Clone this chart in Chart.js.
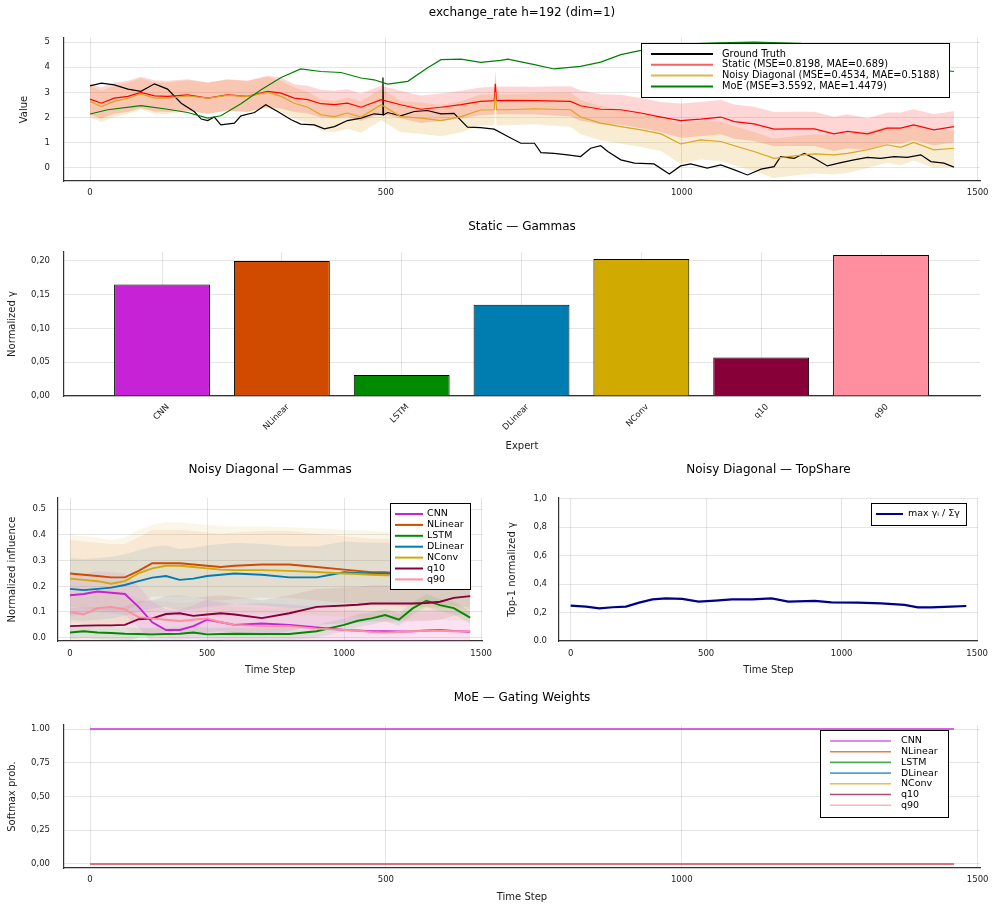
<!DOCTYPE html>
<html>
<head>
<meta charset="utf-8">
<script src="https://cdn.jsdelivr.net/npm/chart.js@4.4.1/dist/chart.umd.min.js"></script>
<style>
  body { margin: 0; background: #fff; }
  #wrap { position: relative; width: 996px; height: 910px; background: #fff; }
  canvas { position: absolute; }
</style>
</head>
<body>
<div id="wrap">
  <canvas id="forecastChart" width="996" height="205" style="left:0;top:0"></canvas>
  <canvas id="staticChart" width="996" height="255" style="left:0;top:205px"></canvas>
  <canvas id="noisyChart" width="500" height="225" style="left:0;top:460px"></canvas>
  <canvas id="shareChart" width="496" height="225" style="left:500px;top:460px"></canvas>
  <canvas id="moeChart" width="996" height="225" style="left:0;top:685px"></canvas>
</div>
<script>
// ---- data ----
const timeTicks = [0, 500, 1000, 1500];
const timeLabels = ["0", "500", "1000", "1500"];

// exchange_rate forecast panel
const gtSteps = [0,19,41,64,86,109,131,154,176,188,199,210,221,244,255,278,297,317,340,356,379,396,413,435,458,480,494,495,496,503,525,548,570,593,615,638,660,683,706,728,751,762,784,807,829,846,863,875,897,920,953,979,998,1015,1043,1066,1089,1111,1134,1156,1167,1190,1207,1224,1246,1269,1291,1314,1336,1359,1381,1404,1421,1443,1460];
const gtValues = [3.26,3.37,3.30,3.13,3.04,3.34,3.13,2.57,2.24,1.94,1.88,2.02,1.71,1.78,2.07,2.20,2.51,2.24,1.91,1.74,1.71,1.55,1.64,1.88,1.98,2.15,2.12,3.59,2.10,2.20,2.07,2.24,2.28,2.15,2.17,1.62,1.60,1.54,1.25,0.98,0.98,0.61,0.58,0.52,0.45,0.78,0.88,0.65,0.32,0.19,0.16,-0.24,0.08,0.16,-0.01,0.12,-0.08,-0.28,-0.05,0.05,0.45,0.38,0.58,0.38,0.08,0.21,0.32,0.42,0.38,0.45,0.42,0.52,0.25,0.19,0.03];

const forecastSteps = [0,19,41,64,86,109,131,165,199,232,266,300,323,345,368,390,413,435,458,492,525,559,593,627,660,683,685,687,706,751,812,829,863,897,931,965,998,1032,1066,1089,1122,1156,1190,1224,1257,1280,1314,1347,1370,1392,1426,1460];
const staticValues = [2.73,2.57,2.77,2.84,3.0,2.86,2.84,2.9,2.77,2.9,2.84,3.04,2.97,2.77,2.71,2.55,2.51,2.57,2.41,2.71,2.51,2.33,2.41,2.51,2.64,2.67,3.34,2.67,2.68,2.67,2.64,2.47,2.33,2.31,2.18,2.02,1.88,1.94,2.02,1.84,1.75,1.54,1.55,1.55,1.35,1.45,1.35,1.58,1.58,1.71,1.51,1.64];
const staticSpread = [0.62,0.62,0.62,0.62,0.62,0.62,0.62,0.62,0.62,0.62,0.62,0.62,0.62,0.55,0.55,0.55,0.55,0.55,0.55,0.55,0.55,0.55,0.55,0.55,0.55,0.55,0.55,0.55,0.55,0.55,0.6,0.6,0.6,0.6,0.6,0.6,0.68,0.68,0.68,0.68,0.68,0.68,0.68,0.68,0.68,0.68,0.62,0.62,0.62,0.62,0.62,0.62];
const noisyValues = [2.64,2.44,2.64,2.77,2.94,2.77,2.77,2.86,2.77,2.88,2.84,3.0,2.84,2.57,2.41,2.11,2.04,2.18,2.02,2.51,2.04,1.98,1.88,2.04,2.30,2.31,3.0,2.31,2.31,2.35,2.31,2.02,1.78,1.64,1.51,1.35,0.95,1.11,1.05,0.88,0.65,0.38,0.48,0.56,0.52,0.58,0.72,0.92,0.82,1.01,0.72,0.78];
const noisySpread = [0.62,0.62,0.62,0.62,0.62,0.62,0.62,0.62,0.62,0.62,0.62,0.62,0.62,0.62,0.62,0.62,0.62,0.62,0.62,0.62,0.62,0.62,0.62,0.62,0.62,0.62,0.62,0.62,0.62,0.62,0.68,0.68,0.68,0.68,0.68,0.68,0.78,0.78,0.78,0.78,0.78,0.78,0.78,0.78,0.78,0.78,0.72,0.72,0.72,0.72,0.72,0.72];

const moeSteps = [0,30,86,131,165,199,221,255,289,323,356,390,424,458,480,503,537,570,593,627,660,694,706,751,784,829,863,897,931,953,1000,1060,1122,1200,1300,1380,1430,1460];
const moeValues = [2.14,2.31,2.47,2.33,2.20,1.98,2.07,2.55,3.10,3.59,3.93,3.83,3.79,3.57,3.50,3.33,3.44,3.97,4.30,4.32,4.19,4.27,4.32,4.10,3.93,4.03,4.2,4.5,4.67,4.83,4.92,4.97,5.0,4.95,4.7,4.2,3.9,3.83];

const forecastYTicks = [0, 1, 2, 3, 4, 5];
const forecastLegend = ["Ground Truth", "Static (MSE=0.8198, MAE=0.689)", "Noisy Diagonal (MSE=0.4534, MAE=0.5188)", "MoE (MSE=3.5592, MAE=1.4479)"];

// experts + static gammas
const experts = ["CNN", "NLinear", "LSTM", "DLinear", "NConv", "q10", "q90"];
const expertColors = ["#c622d6", "#d04a00", "#008a00", "#007db0", "#d0aa00", "#870037", "#ff8f9e"];
const staticGammas = [0.165, 0.200, 0.031, 0.135, 0.203, 0.057, 0.209];
const gammaTicks = [0, 0.05, 0.10, 0.15, 0.20];
const gammaLabels = ["0,00", "0,05", "0,10", "0,15", "0,20"];

// noisy diagonal gammas
const ndSteps = [0,50,100,150,200,250,300,350,400,450,500,550,600,700,800,900,1000,1050,1100,1150,1200,1250,1300,1350,1400,1460];
const ndCNN     = [0.165,0.17,0.18,0.175,0.17,0.12,0.06,0.03,0.03,0.045,0.07,0.06,0.05,0.055,0.05,0.04,0.03,0.028,0.025,0.025,0.024,0.025,0.028,0.03,0.026,0.023];
const ndNLinear = [0.25,0.245,0.24,0.235,0.235,0.26,0.29,0.29,0.29,0.285,0.28,0.275,0.28,0.285,0.285,0.275,0.265,0.26,0.255,0.255,0.25,0.25,0.248,0.245,0.24,0.237];
const ndLSTM    = [0.02,0.025,0.02,0.018,0.015,0.014,0.013,0.014,0.015,0.02,0.013,0.014,0.015,0.014,0.014,0.025,0.05,0.066,0.075,0.088,0.07,0.114,0.144,0.127,0.115,0.078];
const ndDLinear = [0.19,0.185,0.19,0.195,0.205,0.22,0.234,0.24,0.225,0.23,0.24,0.245,0.25,0.245,0.235,0.235,0.255,0.252,0.25,0.25,0.248,0.248,0.25,0.25,0.245,0.237];
const ndNConv   = [0.23,0.225,0.22,0.21,0.22,0.25,0.27,0.28,0.28,0.275,0.27,0.265,0.263,0.263,0.26,0.256,0.25,0.248,0.245,0.243,0.242,0.24,0.24,0.24,0.238,0.235];
const ndQ10     = [0.045,0.047,0.048,0.048,0.05,0.072,0.075,0.092,0.095,0.085,0.09,0.095,0.09,0.076,0.095,0.12,0.125,0.128,0.133,0.133,0.133,0.133,0.135,0.14,0.155,0.162];
const ndQ90     = [0.10,0.09,0.115,0.12,0.11,0.08,0.075,0.07,0.065,0.07,0.075,0.06,0.05,0.045,0.045,0.035,0.03,0.028,0.022,0.02,0.022,0.025,0.027,0.027,0.025,0.025];
const ndSpread  = [0.08, 0.13, 0.025, 0.12, 0.17, 0.07, 0.07];
const ndYTicks = [0, 0.1, 0.2, 0.3, 0.4, 0.5];
const ndYLabels = ["0.0", "0.1", "0.2", "0.3", "0.4", "0.5"];

// top share
const shareSteps = [0,57,106,155,204,253,302,351,412,472,534,595,669,742,803,901,962,1060,1146,1232,1281,1330,1403,1460];
const shareValues = [0.249,0.242,0.23,0.237,0.242,0.27,0.293,0.30,0.296,0.277,0.284,0.293,0.293,0.30,0.277,0.282,0.272,0.27,0.265,0.254,0.237,0.237,0.242,0.246];
const shareYTicks = [0, 0.2, 0.4, 0.6, 0.8, 1.0];
const shareYLabels = ["0.0", "0,2", "0,4", "0,6", "0,8", "1,0"];

// MoE gating weights
const gateSteps = [0, 1460];
const gateCNN = [1, 1];
const gateOthers = [0, 0];
const gateYTicks = [0, 0.25, 0.5, 0.75, 1.0];
const gateYLabels = ["0,00", "0,25", "0,50", "0,75", "1.00"];

// ---- helpers ----
const FONT = '"DejaVu Sans", sans-serif';
const xy = (xs, ys) => xs.map((x, i) => ({ x: x, y: ys[i] }));
const shifted = (xs, ys, spread, sign) => xs.map((x, i) => ({ x: x, y: ys[i] + sign * (Array.isArray(spread) ? spread[i] : spread) }));

function alpha(hex, a) {
  const n = parseInt(hex.slice(1), 16);
  return "rgba(" + (n >> 16) + "," + ((n >> 8) & 255) + "," + (n & 255) + "," + a + ")";
}

const panelTitle = {
  id: "panelTitle",
  afterDraw(chart, args, opts) {
    if (!opts || !opts.text) return;
    const { ctx, chartArea } = chart;
    ctx.save();
    ctx.font = "12px " + FONT;
    ctx.fillStyle = "#000";
    ctx.textAlign = "center";
    ctx.textBaseline = "middle";
    ctx.fillText(opts.text, (chartArea.left + chartArea.right) / 2, opts.y);
    ctx.restore();
  }
};

const boxLegend = {
  id: "boxLegend",
  afterDraw(chart, args, opts) {
    if (!opts || !opts.labels) return;
    const ctx = chart.ctx;
    ctx.save();
    ctx.fillStyle = "#fff";
    ctx.fillRect(opts.x, opts.y, opts.w, opts.h);
    ctx.strokeStyle = "#000";
    ctx.lineWidth = 1;
    ctx.strokeRect(opts.x + 0.5, opts.y + 0.5, opts.w, opts.h);
    ctx.font = opts.fontSize + "px " + FONT;
    ctx.textBaseline = "middle";
    opts.labels.forEach((label, i) => {
      const y = opts.y + opts.firstRow + i * opts.rowH;
      ctx.strokeStyle = opts.colors[i];
      ctx.lineWidth = opts.lineWidth;
      ctx.beginPath();
      ctx.moveTo(opts.x + opts.lineStart, y);
      ctx.lineTo(opts.x + opts.lineEnd, y);
      ctx.stroke();
      ctx.fillStyle = "#000";
      ctx.fillText(label, opts.x + opts.textX, y);
    });
    ctx.restore();
  }
};

Chart.register(panelTitle, boxLegend);
Chart.defaults.font.family = FONT;
Chart.defaults.color = "#222";

function axis(opts) {
  return {
    type: "linear",
    min: opts.min,
    max: opts.max,
    offset: false,
    afterBuildTicks: s => { s.ticks = opts.ticks.map(v => ({ value: v })); },
    afterFit: s => { if (opts.size) { if (s.isHorizontal()) s.height = opts.size; else s.width = opts.size; } },
    grid: { color: "rgba(0,0,0,0.1)", drawTicks: false, offset: false },
    border: { display: true, color: "#333", width: 1.2 },
    ticks: {
      font: { size: 8.5 },
      color: "#222",
      padding: opts.pad,
      autoSkip: false,
      minRotation: opts.rot || 0,
      maxRotation: opts.rot || 0,
      labelOffset: opts.labelOffset || 0,
      callback: (v, i) => opts.labels[i]
    },
    title: opts.title
      ? { display: true, text: opts.title, font: { size: 10 }, color: "#222", padding: opts.titlePad }
      : { display: false }
  };
}

const baseOptions = (padding) => ({
  responsive: false,
  animation: false,
  layout: { padding: padding },
  elements: { point: { radius: 0 }, line: { tension: 0 } },
  plugins: { legend: { display: false }, tooltip: { enabled: false } }
});

// ---- 1. exchange_rate forecast ----
{
  const opts = baseOptions({ top: 38, right: 16, left: 0, bottom: 0 });
  opts.scales = {
    x: axis({ min: -44, max: 1504, ticks: timeTicks, labels: timeLabels, size: 24, pad: 7 }),
    y: axis({ min: -0.52, max: 5.16, ticks: forecastYTicks, labels: forecastYTicks.map(String), size: 64, pad: 14,
              title: "Value", titlePad: { top: 18, bottom: 0 } })
  };
  opts.plugins.panelTitle = { text: "exchange_rate h=192 (dim=1)", y: 13 };
  opts.plugins.boxLegend = {
    x: 641, y: 43, w: 308, h: 54, firstRow: 11, rowH: 10.8, lineStart: 10, lineEnd: 72, textX: 81,
    fontSize: 9.8, lineWidth: 2, labels: forecastLegend,
    colors: ["#000", "rgba(255,40,40,0.75)", "rgba(218,165,32,0.8)", "#008000"]
  };
  const clear = "rgba(0,0,0,0)";
  new Chart(document.getElementById("forecastChart"), {
    type: "line",
    data: {
      datasets: [
        { label: "Ground Truth", data: xy(gtSteps, gtValues), borderColor: "#000", borderWidth: 1.2, order: 4 },
        { label: "Static", data: xy(forecastSteps, staticValues), borderColor: "#ff0000", borderWidth: 1.2, order: 3 },
        { label: "Noisy Diagonal", data: xy(forecastSteps, noisyValues), borderColor: "#daa520", borderWidth: 1.2, order: 2 },
        { label: "MoE", data: xy(moeSteps, moeValues), borderColor: "#008000", borderWidth: 1.2, order: 1 },
        { data: shifted(forecastSteps, staticValues, staticSpread, 1), borderColor: clear, fill: "+1", backgroundColor: "rgba(255,0,0,0.16)", order: 10 },
        { data: shifted(forecastSteps, staticValues, staticSpread, -1), borderColor: clear, fill: false, order: 10 },
        { data: shifted(forecastSteps, noisyValues, noisySpread, 1), borderColor: clear, fill: "+1", backgroundColor: "rgba(218,165,32,0.2)", order: 10 },
        { data: shifted(forecastSteps, noisyValues, noisySpread, -1), borderColor: clear, fill: false, order: 10 }
      ]
    },
    options: opts
  });
}

// ---- 2. Static gammas ----
{
  const opts = baseOptions({ top: 47, right: 16, left: 0, bottom: 0 });
  opts.scales = {
    x: axis({ min: -0.818, max: 6.826, ticks: experts.map((e, i) => i), labels: experts, size: 64, pad: 6, rot: 45, labelOffset: 6,
              title: "Expert", titlePad: { top: 0, bottom: 8 } }),
    y: axis({ min: 0, max: 0.2133, ticks: gammaTicks, labels: gammaLabels, size: 64, pad: 14,
              title: "Normalized γ", titlePad: { top: 6, bottom: 0 } })
  };
  opts.plugins.panelTitle = { text: "Static — Gammas", y: 22 };
  new Chart(document.getElementById("staticChart"), {
    type: "bar",
    data: {
      datasets: [{
        data: xy(experts.map((e, i) => i), staticGammas),
        backgroundColor: expertColors,
        borderColor: "#000",
        borderWidth: 1,
        barPercentage: 0.8,
        categoryPercentage: 1.0
      }]
    },
    options: opts
  });
}

// ---- 3. Noisy Diagonal gammas ----
{
  const series = [ndCNN, ndNLinear, ndLSTM, ndDLinear, ndNConv, ndQ10, ndQ90];
  const datasets = [];
  series.forEach((vals, i) => {
    datasets.push({ label: experts[i], data: xy(ndSteps, vals), borderColor: expertColors[i], borderWidth: 1.9, order: 9 - i });
  });
  series.forEach((vals, i) => {
    datasets.push({ data: shifted(ndSteps, vals, ndSpread[i], 1), borderColor: "rgba(0,0,0,0)", fill: "+1",
                    backgroundColor: alpha(expertColors[i], 0.09), order: 20 });
    datasets.push({ data: shifted(ndSteps, vals, ndSpread[i], -1), borderColor: "rgba(0,0,0,0)", fill: false, order: 20 });
  });
  const opts = baseOptions({ top: 38, right: 15, left: 0, bottom: 0 });
  opts.scales = {
    x: axis({ min: -44, max: 1504, ticks: timeTicks, labels: timeLabels, size: 44, pad: 8,
              title: "Time Step", titlePad: { top: 0, bottom: 9 } }),
    y: axis({ min: -0.013, max: 0.544, ticks: ndYTicks, labels: ndYLabels, size: 58, pad: 12,
              title: "Normalized influence", titlePad: { top: 6, bottom: 0 } })
  };
  opts.plugins.panelTitle = { text: "Noisy Diagonal — Gammas", y: 10 };
  opts.plugins.boxLegend = {
    x: 390, y: 43, w: 80, h: 86, firstRow: 11, rowH: 10.9, lineStart: 5, lineEnd: 33, textX: 37,
    fontSize: 9.5, lineWidth: 2, labels: experts, colors: expertColors
  };
  new Chart(document.getElementById("noisyChart"), { type: "line", data: { datasets: datasets }, options: opts });
}

// ---- 4. Noisy Diagonal top share ----
{
  const opts = baseOptions({ top: 38, right: 16, left: 0, bottom: 0 });
  opts.scales = {
    x: axis({ min: -43, max: 1503, ticks: timeTicks, labels: timeLabels, size: 44, pad: 8,
              title: "Time Step", titlePad: { top: 0, bottom: 9 } }),
    y: axis({ min: 0, max: 1.005, ticks: shareYTicks, labels: shareYLabels, size: 59, pad: 12,
              title: "Top-1 normalized γ", titlePad: { top: 6, bottom: 0 } })
  };
  opts.plugins.panelTitle = { text: "Noisy Diagonal — TopShare", y: 10 };
  opts.plugins.boxLegend = {
    x: 371, y: 43, w: 95, h: 22, firstRow: 11, rowH: 11, lineStart: 5, lineEnd: 32, textX: 37,
    fontSize: 9.5, lineWidth: 2, labels: ["max γᵢ / Σγ"], colors: ["#00008b"]
  };
  new Chart(document.getElementById("shareChart"), {
    type: "line",
    data: { datasets: [{ label: "max γᵢ / Σγ", data: xy(shareSteps, shareValues), borderColor: "#00008b", borderWidth: 2.2 }] },
    options: opts
  });
}

// ---- 5. MoE gating weights ----
{
  const gateSeries = [gateCNN, gateOthers, gateOthers, gateOthers, gateOthers, gateOthers, gateOthers];
  const opts = baseOptions({ top: 40, right: 16, left: 0, bottom: 0 });
  opts.scales = {
    x: axis({ min: -44, max: 1504, ticks: timeTicks, labels: timeLabels, size: 42, pad: 7,
              title: "Time Step", titlePad: { top: 0, bottom: 7 } }),
    y: axis({ min: -0.03, max: 1.03, ticks: gateYTicks, labels: gateYLabels, size: 64, pad: 14,
              title: "Softmax prob.", titlePad: { top: 6, bottom: 0 } })
  };
  opts.plugins.panelTitle = { text: "MoE — Gating Weights", y: 13 };
  opts.plugins.boxLegend = {
    x: 820, y: 45, w: 128, h: 87, firstRow: 11, rowH: 10.7, lineStart: 10, lineEnd: 71, textX: 81,
    fontSize: 9.5, lineWidth: 1.6, labels: experts, colors: expertColors.map(c => alpha(c, 0.7))
  };
  new Chart(document.getElementById("moeChart"), {
    type: "line",
    data: {
      datasets: gateSeries.map((vals, i) => ({
        label: experts[i], data: xy(gateSteps, vals), borderColor: alpha(expertColors[i], 0.7), borderWidth: 2, order: 9 - i
      }))
    },
    options: opts
  });
}
</script>
</body>
</html>
